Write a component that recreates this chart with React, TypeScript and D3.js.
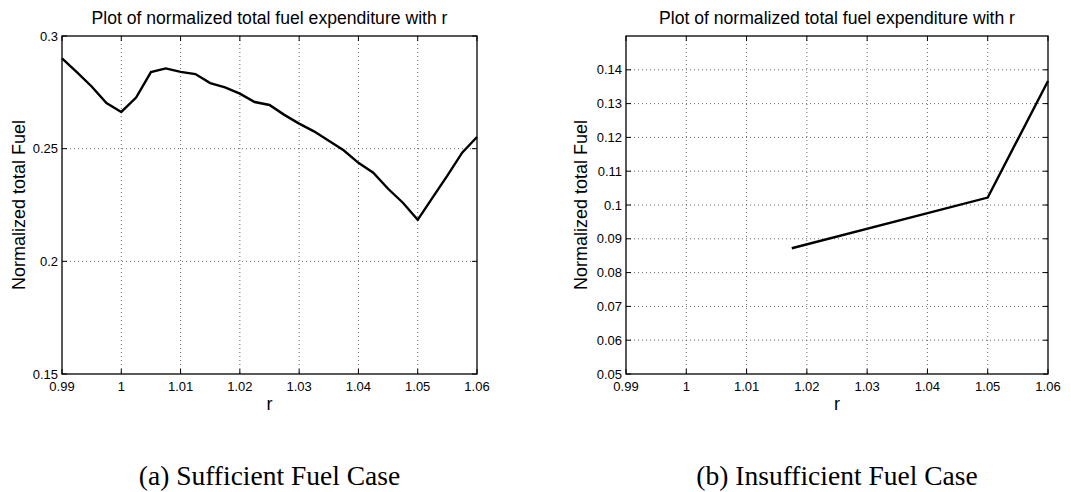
import React from "react";
import * as d3 from "d3";

const rLeft = [0.99, 0.9925, 0.995, 0.9975, 1.0, 1.0025, 1.005, 1.0075, 1.01, 1.0125, 1.015, 1.0175, 1.02, 1.0225, 1.025, 1.0275, 1.03, 1.0325, 1.035, 1.0375, 1.04, 1.0425, 1.045, 1.0475, 1.05, 1.0525, 1.055, 1.0575, 1.06];
const fuelLeft = [0.2901, 0.2840, 0.2776, 0.2702, 0.2663, 0.2727, 0.2840, 0.2856, 0.2841, 0.2831, 0.2791, 0.2772, 0.2744, 0.2707, 0.2694, 0.2650, 0.2611, 0.2577, 0.2535, 0.2493, 0.2437, 0.2393, 0.2322, 0.2260, 0.2184, 0.2283, 0.2380, 0.2482, 0.2552];

const rRight = [1.0175, 1.05, 1.06];
const fuelRight = [0.0872, 0.1022, 0.1367];

const xTicks = [0.99, 1, 1.01, 1.02, 1.03, 1.04, 1.05, 1.06];
const yTicksLeft = [0.15, 0.2, 0.25, 0.3];
const yTicksRight = [0.05, 0.06, 0.07, 0.08, 0.09, 0.1, 0.11, 0.12, 0.13, 0.14];

const titleText = "Plot of normalized total fuel expenditure with r";
const yLabelText = "Normalized total Fuel";
const xLabelText = "r";

const fmt = (v: number) => String(+v.toFixed(4));

type PanelProps = {
  x0: number; x1: number; y0: number; y1: number;
  yDomain: [number, number];
  yTicks: number[];
  xs: number[]; ys: number[];
  caption: string;
  yLabelX: number;
};

function Panel({ x0, x1, y0, y1, yDomain, yTicks, xs, ys, caption, yLabelX }: PanelProps) {
  const xScale = d3.scaleLinear().domain([0.99, 1.06]).range([x0, x1]);
  const yScale = d3.scaleLinear().domain(yDomain).range([y1, y0]);
  const line = d3.line<number>().x((_, i) => xScale(xs[i])).y((d) => yScale(d));
  const font = "Liberation Sans, Arial, sans-serif";
  const cx = (x0 + x1) / 2;
  const tl = 5;
  return (
    <g>
      {xTicks.slice(1, -1).map((t) => (
        <line key={"gx" + t} x1={xScale(t)} x2={xScale(t)} y1={y0} y2={y1} stroke="#444" strokeWidth={0.8} strokeDasharray="1,3" />
      ))}
      {yTicks.filter((t) => yScale(t) > y0 + 1 && yScale(t) < y1 - 1).map((t) => (
        <line key={"gy" + t} x1={x0} x2={x1} y1={yScale(t)} y2={yScale(t)} stroke="#444" strokeWidth={0.8} strokeDasharray="1,3" />
      ))}
      {xTicks.map((t) => (
        <g key={"tx" + t}>
          <line x1={xScale(t)} x2={xScale(t)} y1={y1} y2={y1 - tl} stroke="#000" strokeWidth={1} />
          <line x1={xScale(t)} x2={xScale(t)} y1={y0} y2={y0 + tl} stroke="#000" strokeWidth={1} />
          <text x={xScale(t)} y={y1 + 17} textAnchor="middle" fontFamily={font} fontSize={13}>{fmt(t)}</text>
        </g>
      ))}
      {yTicks.map((t) => (
        <g key={"ty" + t}>
          <line x1={x0} x2={x0 + tl} y1={yScale(t)} y2={yScale(t)} stroke="#000" strokeWidth={1} />
          <line x1={x1} x2={x1 - tl} y1={yScale(t)} y2={yScale(t)} stroke="#000" strokeWidth={1} />
          <text x={x0 - 4} y={yScale(t) + 4.5} textAnchor="end" fontFamily={font} fontSize={13}>{fmt(t)}</text>
        </g>
      ))}
      <rect x={x0} y={y0} width={x1 - x0} height={y1 - y0} fill="none" stroke="#000" strokeWidth={1.3} />
      <path d={line(ys) || ""} fill="none" stroke="#000" strokeWidth={2.4} strokeLinejoin="miter" />
      <text x={cx} y={y0 - 12} textAnchor="middle" fontFamily={font} fontSize={17.6}>{titleText}</text>
      <text x={cx} y={y1 + 36} textAnchor="middle" fontFamily={font} fontSize={18}>{xLabelText}</text>
      <text transform={`translate(${yLabelX},${(y0 + y1) / 2}) rotate(-90)`} textAnchor="middle" fontFamily={font} fontSize={18}>{yLabelText}</text>
      <text x={cx} y={485} textAnchor="middle" fontFamily="Liberation Serif, Times New Roman, serif" fontSize={27.5}>{caption}</text>
    </g>
  );
}

export default function App() {
  return (
    <svg width={1071} height={492} style={{ position: "absolute", left: 0, top: 0, background: "#fff" }}>
      <rect width={1071} height={492} fill="#fff" />
      <Panel x0={62} x1={477} y0={36} y1={374} yDomain={[0.15, 0.3]} yTicks={yTicksLeft} xs={rLeft} ys={fuelLeft} caption="(a) Sufficient Fuel Case" yLabelX={25} />
      <Panel x0={626} x1={1048} y0={36} y1={374} yDomain={[0.05, 0.15]} yTicks={yTicksRight} xs={rRight} ys={fuelRight} caption="(b) Insufficient Fuel Case" yLabelX={587} />
    </svg>
  );
}
